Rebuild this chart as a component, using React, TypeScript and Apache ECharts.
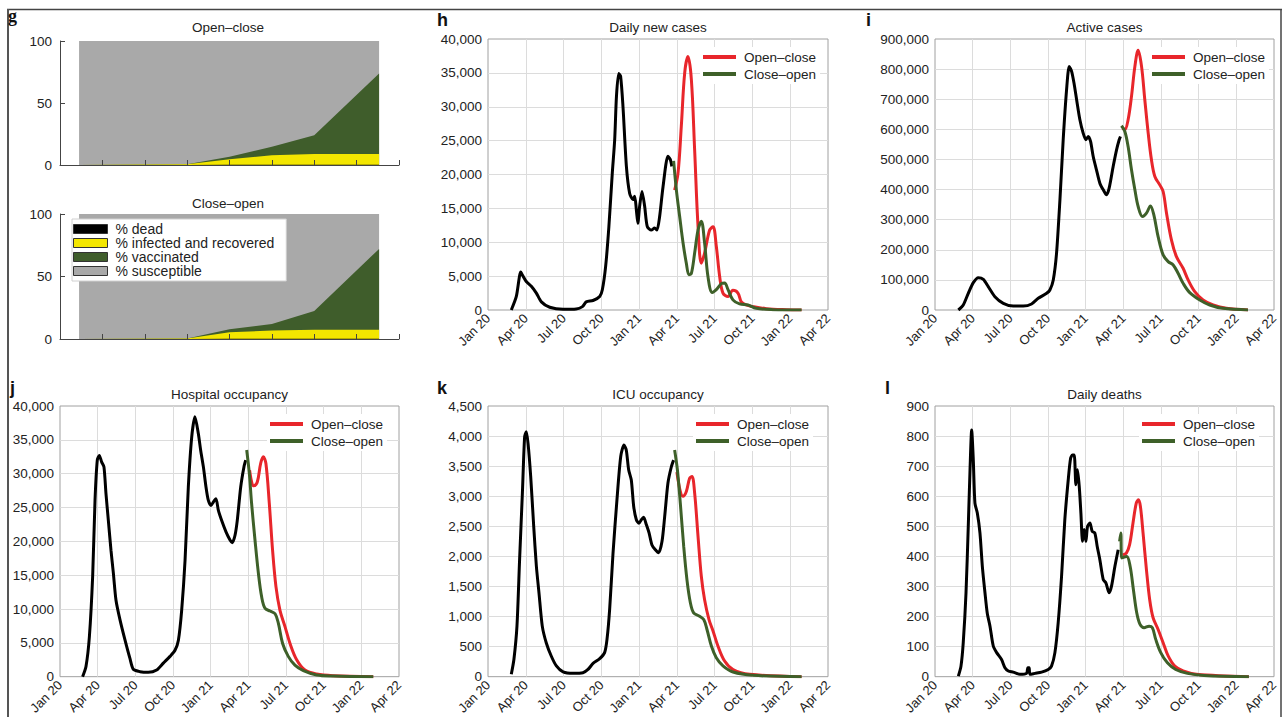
import React, { useEffect, useRef } from 'react';
import * as echarts from 'echarts';

const FONT = '"Liberation Sans", Arial, Helvetica, sans-serif';
const RED = '#e8262b';
const GREEN = '#3e6029';
const INK = '#222';

// ---------- panel g : population state (%) ----------
const stageX = [0.45, 3.0, 4.0, 5.0, 6.0, 7.53];
const ocDead = [0.05, 0.1, 0.15, 0.18, 0.2, 0.2];
const ocInfected = [0, 0.5, 4.5, 7.6, 8.6, 8.6];
const ocVaccinated = [0, 0, 2.1, 6.9, 15.2, 64.9];
const coDead = [0.05, 0.1, 0.15, 0.18, 0.2, 0.2];
const coInfected = [0, 0.4, 5.2, 6.6, 7.2, 7.2];
const coVaccinated = [0, 0, 2.4, 5.3, 15.1, 64.7];
const gLegendNames = ['% dead', '% infected and recovered', '% vaccinated', '% susceptible'];
const gColors = ['#000000', '#f3e600', '#3f5d2b', '#a9a9a9'];

// ---------- quarter tick labels (x in months since Jan 2020) ----------
const quarterLabels = ['Jan 20', 'Apr 20', 'Jul 20', 'Oct 20', 'Jan 21', 'Apr 21', 'Jul 21', 'Oct 21', 'Jan 22', 'Apr 22'];

// ---------- h : daily new cases ----------
const casesObserved = [[1.85,0],[2.25,2000],[2.6,5600],[2.72,5200],[3.04,4200],[3.44,3500],[3.84,2500],[4.24,1200],[4.9,400],[5.96,100],[7.0,150],[7.5,500],[7.8,1200],[8.34,1400],[8.87,2000],[9.08,3000],[9.34,6400],[9.6,12300],[9.87,20200],[10.06,25100],[10.2,31500],[10.38,34900],[10.53,34500],[10.72,30000],[10.99,21200],[11.25,17200],[11.51,16300],[11.65,16800],[11.78,14800],[11.9,12800],[12.04,15300],[12.23,17500],[12.44,15300],[12.65,12300],[12.97,11800],[13.23,12100],[13.42,11800],[13.63,13800],[13.9,18200],[14.29,22700],[14.48,22200],[14.6,21200]];
const casesOpenClose = [[14.82,17700],[15.09,20200],[15.35,27100],[15.62,35000],[15.88,37400],[16.15,34000],[16.41,23600],[16.68,12300],[16.94,6900],[17.2,8400],[17.6,11800],[17.87,12300],[18.13,9400],[18.4,4900],[18.66,2500],[19.06,2000],[19.45,2900],[19.85,2500],[20.12,1200],[20.5,740],[21.04,500],[22.1,200],[23.7,50],[24.9,0]];
const casesCloseOpen = [[14.74,22000],[14.96,17700],[15.22,13800],[15.49,9900],[15.75,6900],[15.96,5200],[16.15,5400],[16.41,8400],[16.68,11800],[16.94,13100],[17.2,9900],[17.47,4900],[17.81,2600],[18.13,3000],[18.53,3900],[18.79,4000],[19.06,3000],[19.45,1500],[19.98,900],[20.65,740],[21.3,250],[22.6,50],[24.9,0]];

// ---------- i : active cases ----------
const activeObserved = [[1.86,0],[2.25,16600],[2.65,55400],[3.05,90900],[3.45,107500],[3.85,102000],[4.24,77600],[4.77,44300],[5.44,22200],[6.23,13300],[7.03,13300],[7.69,20000],[8.22,38800],[8.89,55400],[9.15,66500],[9.42,99800],[9.68,188400],[9.95,365800],[10.21,565300],[10.48,731500],[10.69,809000],[10.88,792500],[11.07,753700],[11.28,698300],[11.54,631800],[11.8,587500],[12.02,565300],[12.2,576400],[12.39,559700],[12.6,509900],[12.86,465500],[13.13,421200],[13.4,399000],[13.66,382400],[13.87,404600],[14.19,476600],[14.46,532000],[14.67,565300],[14.77,576400]];
const activeOpenClose = [[14.95,604000],[15.12,598500],[15.38,631800],[15.65,709400],[15.92,809100],[16.18,862300],[16.45,809100],[16.71,698300],[16.98,587500],[17.24,498800],[17.51,443400],[17.9,415600],[18.17,393500],[18.44,321400],[18.83,232800],[19.23,177300],[19.76,138600],[20.16,99800],[20.69,61000],[21.35,33300],[22.15,16600],[23.21,5500],[24.93,0]];
const activeCloseOpen = [[14.85,611800],[15.12,593000],[15.38,543100],[15.65,465500],[15.92,399000],[16.18,343600],[16.53,310400],[16.84,321400],[17.16,345800],[17.43,315900],[17.77,243800],[18.17,182900],[18.57,160700],[18.97,149600],[19.36,121900],[19.76,88700],[20.29,57600],[21.09,33300],[21.88,16600],[22.94,5500],[24.93,0]];

// ---------- j : hospital occupancy ----------
const hospObserved = [[1.8,0],[2.07,1500],[2.34,5900],[2.6,14800],[2.79,26100],[2.97,32000],[3.13,32700],[3.32,31700],[3.5,31000],[3.66,27100],[3.85,23100],[4.06,18700],[4.25,15300],[4.46,11300],[4.78,8400],[5.18,5400],[5.57,2700],[5.84,1100],[6.37,740],[7.03,640],[7.7,980],[8.23,2000],[8.76,3000],[9.16,3900],[9.43,5400],[9.69,9800],[9.96,17200],[10.22,28000],[10.49,35400],[10.75,38400],[11.02,35900],[11.2,33500],[11.42,31000],[11.63,28000],[11.81,26100],[12.03,25300],[12.21,25800],[12.42,26300],[12.61,24600],[12.87,23100],[13.22,21400],[13.54,20200],[13.72,19800],[13.94,20900],[14.12,23100],[14.39,28000],[14.65,31000],[14.79,32000]];
const hospOpenClose = [[15.1,30500],[15.3,28500],[15.45,28200],[15.72,28800],[15.98,31500],[16.19,32500],[16.4,31500],[16.67,25600],[16.93,18700],[17.2,13300],[17.52,9800],[17.92,7400],[18.32,4900],[18.85,2500],[19.51,980],[20.44,390],[21.77,150],[24.95,0]];
const hospCloseOpen = [[14.87,33500],[15.08,30000],[15.26,25600],[15.53,20200],[15.8,15300],[16.06,11800],[16.33,10100],[16.73,9700],[17.13,9300],[17.39,7900],[17.73,4900],[18.18,3000],[18.71,1700],[19.38,890],[20.44,250],[21.77,100],[24.95,0]];

// ---------- k : ICU occupancy ----------
const icuObserved = [[1.85,40],[2.06,290],[2.3,840],[2.51,1950],[2.73,3050],[2.91,3990],[3.04,4070],[3.18,3880],[3.39,3330],[3.63,2500],[3.84,1840],[4.05,1390],[4.31,840],[4.63,560],[5.03,340],[5.43,180],[5.96,80],[6.75,55],[7.54,65],[7.94,120],[8.34,220],[8.87,300],[9.26,400],[9.45,620],[9.66,1120],[9.93,2060],[10.24,2940],[10.54,3660],[10.8,3850],[10.98,3770],[11.17,3440],[11.38,3270],[11.57,2830],[11.78,2610],[11.99,2550],[12.18,2610],[12.36,2650],[12.57,2530],[12.79,2390],[13.02,2190],[13.29,2110],[13.55,2060],[13.82,2250],[14.03,2660],[14.29,3220],[14.56,3490],[14.74,3600]];
const icuOpenClose = [[15.0,3400],[15.27,3080],[15.48,3000],[15.75,3080],[16.01,3300],[16.2,3330],[16.41,3050],[16.68,2330],[16.94,1670],[17.2,1280],[17.55,950],[17.87,760],[18.26,510],[18.79,260],[19.46,120],[20.78,40],[24.9,0]];
const icuCloseOpen = [[14.82,3770],[15.04,3440],[15.27,2890],[15.54,2170],[15.8,1610],[16.07,1230],[16.33,1060],[16.76,1010],[17.13,950],[17.39,785],[17.74,510],[18.13,315],[18.66,180],[19.46,77],[21.05,22],[24.9,0]];

// ---------- l : daily deaths ----------
const deathsObserved = [[1.86,2],[2.07,35],[2.25,113],[2.47,279],[2.65,500],[2.79,688],[2.92,820],[3.05,721],[3.18,577],[3.37,544],[3.58,478],[3.77,367],[3.98,279],[4.16,212],[4.38,168],[4.64,102],[4.91,80],[5.3,57],[5.57,30],[5.84,19],[6.23,15],[6.76,8],[7.29,11],[7.4,30],[7.5,30],[7.56,8],[7.96,11],[8.49,15],[9.02,24],[9.28,35],[9.55,80],[9.81,179],[10.08,334],[10.34,522],[10.61,654],[10.8,726],[10.95,737],[11.09,737],[11.22,638],[11.35,688],[11.49,632],[11.62,544],[11.75,450],[11.88,489],[12.02,450],[12.15,500],[12.34,511],[12.52,483],[12.73,478],[12.92,433],[13.13,389],[13.4,323],[13.61,312],[13.87,279],[14.06,301],[14.33,367],[14.59,422]];
const deathsOpenClose = [[14.95,405],[15.24,411],[15.5,439],[15.77,511],[16.03,577],[16.2,588],[16.36,566],[16.57,478],[16.84,356],[17.1,256],[17.37,196],[17.77,157],[18.17,113],[18.57,69],[19.1,35],[19.76,19],[20.82,8],[25.0,0]];
const deathsCloseOpen = [[14.7,450],[14.8,478],[14.87,395],[15.27,400],[15.54,367],[15.8,290],[16.07,212],[16.33,174],[16.65,163],[17.05,168],[17.31,163],[17.58,124],[17.98,80],[18.51,46],[19.17,24],[20.1,11],[21.43,4],[25.0,0]];

const linePanels = [
  { title: 'Daily new cases', letter: 'h', max: 40000, interval: 5000, obs: casesObserved, oc: casesOpenClose, co: casesCloseOpen, grid: { left: 488, top: 39, width: 340, height: 271 }, legend: [700, 47], letterPos: [437, 20] },
  { title: 'Active cases', letter: 'i', max: 900000, interval: 100000, obs: activeObserved, oc: activeOpenClose, co: activeCloseOpen, grid: { left: 935, top: 39, width: 339, height: 271 }, legend: [1149, 47], letterPos: [866, 20] },
  { title: 'Hospital occupancy', letter: 'j', max: 40000, interval: 5000, obs: hospObserved, oc: hospOpenClose, co: hospCloseOpen, grid: { left: 60, top: 406, width: 339, height: 271 }, legend: [267, 414], letterPos: [10, 388] },
  { title: 'ICU occupancy', letter: 'k', max: 4500, interval: 500, obs: icuObserved, oc: icuOpenClose, co: icuCloseOpen, grid: { left: 488, top: 406, width: 340, height: 271 }, legend: [693, 414], letterPos: [437, 388] },
  { title: 'Daily deaths', letter: 'l', max: 900, interval: 100, obs: deathsObserved, oc: deathsOpenClose, co: deathsCloseOpen, grid: { left: 935, top: 406, width: 339, height: 271 }, legend: [1139, 414], letterPos: [885, 388] },
];

const gPanels = [
  { title: 'Open–close', dead: ocDead, inf: ocInfected, vac: ocVaccinated, grid: { left: 60, top: 41, width: 339, height: 124 }, titleY: 27 },
  { title: 'Close–open', dead: coDead, inf: coInfected, vac: coVaccinated, grid: { left: 60, top: 214, width: 339, height: 125 }, titleY: 203 },
];

function textEl(text: string, x: number, y: number, size: number, opts: any = {}) {
  return {
    type: 'text',
    x,
    y,
    z: 100,
    style: {
      text,
      fill: opts.fill || INK,
      font: `${opts.weight || 'normal'} ${size}px ${opts.family || FONT}`,
      textAlign: opts.align || 'center',
      textVerticalAlign: 'middle',
      align: opts.align || 'center',
      verticalAlign: 'middle',
    },
  };
}

function buildOption() {
  const grid: any[] = [];
  const xAxis: any[] = [];
  const yAxis: any[] = [];
  const series: any[] = [];
  const legend: any[] = [];
  const graphic: any[] = [];

  // frame
  graphic.push({ type: 'line', z: 100, shape: { x1: 7, y1: 9.5, x2: 1282, y2: 9.5 }, style: { stroke: '#444', lineWidth: 1.5 } });
  graphic.push({ type: 'line', z: 100, shape: { x1: 8, y1: 9, x2: 8, y2: 717 }, style: { stroke: '#555', lineWidth: 2 } });
  graphic.push({ type: 'line', z: 100, shape: { x1: 1281, y1: 9, x2: 1281, y2: 717 }, style: { stroke: '#444', lineWidth: 1.5 } });
  graphic.push(textEl('g', 8, 16, 18, { weight: 'bold', family: '"Liberation Serif", "DejaVu Serif", serif', align: 'left', fill: '#111' }));

  gPanels.forEach((p, i) => {
    grid.push({ ...p.grid, show: false, containLabel: false });
    xAxis.push({
      type: 'value', gridIndex: i, min: 0, max: 8, interval: 1, z: 10,
      axisLine: { show: true, onZero: false, lineStyle: { color: '#444', width: 1 } },
      axisTick: { show: true, inside: true, length: 5, lineStyle: { color: '#444' } },
      axisLabel: { show: false }, splitLine: { show: false },
    });
    yAxis.push({
      type: 'value', gridIndex: i, min: 0, max: 100, interval: 50, z: 10,
      axisLine: { show: true, lineStyle: { color: '#444', width: 1 } },
      axisTick: { show: true, inside: true, length: 5, lineStyle: { color: '#444' } },
      axisLabel: { color: INK, fontSize: 13.5, fontFamily: FONT, margin: 8 },
      splitLine: { show: false },
    });
    // cumulative tops of each layer (dead, +infected, +vaccinated, +susceptible = 100)
    const topDead = p.dead.map((d) => d);
    const topInf = p.dead.map((d, k) => d + p.inf[k]);
    const topVac = p.dead.map((d, k) => d + p.inf[k] + p.vac[k]);
    const topSus = p.dead.map(() => 100);
    const tops = [topDead, topInf, topVac, topSus];
    // draw from the top layer down so each lower layer paints over the upper one
    [3, 2, 1, 0].forEach((c, order) => {
      series.push({
        type: 'line', name: gLegendNames[c], xAxisIndex: i, yAxisIndex: i,
        data: stageX.map((x, k) => [x, tops[c][k]]),
        symbol: 'none', smooth: false,
        lineStyle: { width: 0, color: gColors[c] },
        itemStyle: { color: gColors[c] },
        areaStyle: { color: gColors[c], opacity: 1, origin: 'start' },
        z: 2 + order * 0.01,
      });
    });
    graphic.push(textEl(p.title, 228, p.titleY, 13.5));
  });

  legend.push({
    data: gLegendNames, orient: 'vertical', left: 72, top: 219, icon: 'rect',
    itemWidth: 34, itemHeight: 9, itemGap: 0,
    backgroundColor: '#fff', borderColor: '#d0d0d0', borderWidth: 1, padding: [3, 12, 3, 1],
    itemStyle: { borderColor: '#333', borderWidth: 1 },
    textStyle: { fontSize: 14, lineHeight: 12, color: INK, fontFamily: FONT, padding: [0, 0, 0, 3] },
    selectedMode: false, z: 20,
  });

  linePanels.forEach((p, j) => {
    const gi = j + 2;
    grid.push({ ...p.grid, show: true, borderColor: '#a0a0a0', borderWidth: 1, backgroundColor: '#fff', containLabel: false });
    xAxis.push({
      type: 'value', gridIndex: gi, min: 0, max: 27, interval: 3,
      axisLine: { show: false }, axisTick: { show: false },
      axisLabel: {
        rotate: 45, margin: 6, color: INK, fontSize: 13, fontFamily: FONT,
        formatter: (v: number) => quarterLabels[Math.round(v / 3)] || '',
      },
      splitLine: { show: true, showMinLine: false, showMaxLine: false, lineStyle: { color: '#dcdcdc', width: 1 } },
    });
    yAxis.push({
      type: 'value', gridIndex: gi, min: 0, max: p.max, interval: p.interval,
      axisLine: { show: false }, axisTick: { show: false },
      axisLabel: {
        margin: 6, color: INK, fontSize: 13.5, fontFamily: FONT,
        formatter: (v: number) => v.toLocaleString('en-US'),
      },
      splitLine: { show: true, showMinLine: false, showMaxLine: false, lineStyle: { color: '#dcdcdc', width: 1 } },
    });
    series.push({
      type: 'line', name: 'Observed', xAxisIndex: gi, yAxisIndex: gi, data: p.obs,
      symbol: 'none', smooth: 0.25, lineStyle: { color: '#000', width: 3 }, itemStyle: { color: '#000' }, z: 3,
    });
    series.push({
      type: 'line', name: 'Open–close', xAxisIndex: gi, yAxisIndex: gi, data: p.oc,
      symbol: 'none', smooth: 0.35, lineStyle: { color: RED, width: 3 }, itemStyle: { color: RED }, z: 4,
    });
    series.push({
      type: 'line', name: 'Close–open', xAxisIndex: gi, yAxisIndex: gi, data: p.co,
      symbol: 'none', smooth: 0.35, lineStyle: { color: GREEN, width: 3 }, itemStyle: { color: GREEN }, z: 5,
    });
    legend.push({
      data: ['Open–close', 'Close–open'], orient: 'vertical', left: p.legend[0], top: p.legend[1],
      icon: 'rect', itemWidth: 33, itemHeight: 4, itemGap: 3,
      backgroundColor: '#fff', padding: [3, 4, 3, 3],
      textStyle: { fontSize: 13.5, lineHeight: 14, color: INK, fontFamily: FONT, padding: [0, 0, 0, 3] },
      selectedMode: false, z: 20,
    });
    const cx = p.grid.left + p.grid.width / 2;
    graphic.push(textEl(p.title, cx, p.grid.top - 12, 13.5));
    graphic.push(textEl(p.letter, p.letterPos[0], p.letterPos[1], 18, { weight: 'bold', align: 'left', fill: '#111' }));
  });

  return {
    animation: false,
    backgroundColor: '#fff',
    textStyle: { fontFamily: FONT },
    grid, xAxis, yAxis, series, legend, graphic,
  };
}

export default function App() {
  const ref = useRef<HTMLDivElement>(null);
  useEffect(() => {
    if (!ref.current) return;
    const chart = echarts.init(ref.current, undefined, { renderer: 'svg' });
    chart.setOption(buildOption() as any);
    return () => chart.dispose();
  }, []);
  return (
    <div
      ref={ref}
      style={{ position: 'absolute', left: 0, top: 0, width: 1285, height: 717, background: '#fff' }}
    />
  );
}
